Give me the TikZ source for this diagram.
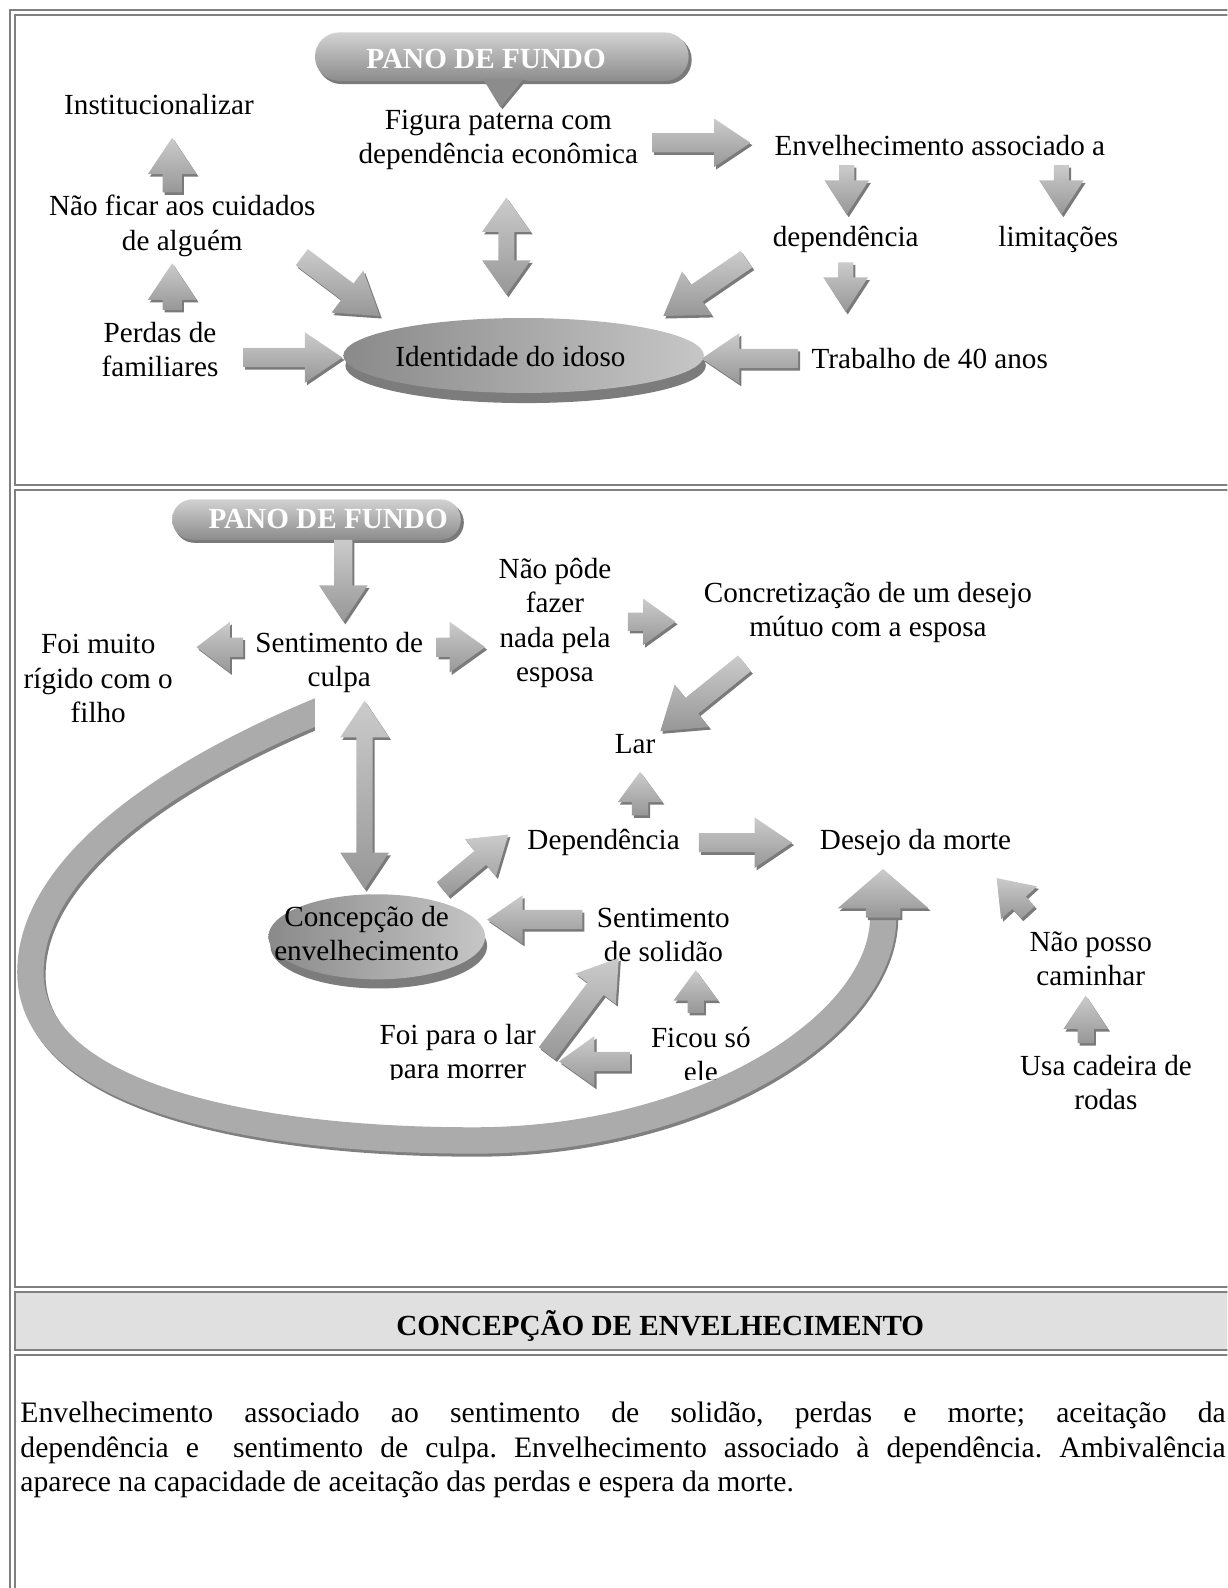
\documentclass[tikz,border=0pt]{standalone}
\usepackage{fontspec}
\setmainfont{Liberation Serif}
\usetikzlibrary{calc}
\frenchspacing

\definecolor{framegray}{HTML}{808080}
\definecolor{headerfill}{HTML}{E0E0E0}
\definecolor{arrowtop}{HTML}{CBCBCB}
\definecolor{arrowbot}{HTML}{979797}
\definecolor{arrowshadow}{HTML}{7A7A7A}
\definecolor{ellleft}{HTML}{8A8A8A}
\definecolor{ellright}{HTML}{C6C6C6}
\definecolor{ellrim}{HTML}{7C7C7C}
\definecolor{pilltop}{HTML}{D2D2D2}
\definecolor{pillbot}{HTML}{8C8C8C}
\definecolor{bandcol}{HTML}{ABABAB}
\definecolor{bandshadow}{HTML}{808080}

\tikzset{
  lbl/.style={font=\fontsize{28.8}{34}\selectfont, align=center, inner sep=0pt},
  pano/.style={font=\fontsize{28.8}{34}\selectfont\bfseries, text=white, inner sep=0pt},
  frame/.style={draw=framegray, line width=2pt},
  arrowbody/.style={top color=arrowtop, bottom color=arrowbot},
  arrowshade/.style={fill=arrowshadow},
  band/.style={line width=26pt},
}

% outline of a block arrow: tail, tip, head base, shaft half width, head half width
\newcommand\apoly[5]{($(#1)!#4pt!90:(#2)$) -- ($(#3)!#4pt!90:(#2)$) -- ($(#3)!#5pt!90:(#2)$) -- (#2) -- ($(#3)!#5pt!-90:(#2)$) -- ($(#3)!#4pt!-90:(#2)$) -- ($(#1)!#4pt!-90:(#2)$) -- cycle}

% block arrow with a soft shadow: tail, tip, shaft half, head half, head length
\newcommand\blockarrow[5]{%
  \coordinate (bt) at (#1); \coordinate (bp) at (#2);
  \coordinate (bh) at ($(bp)!#5pt!(bt)$);
  \coordinate (st) at ($(bt)+(2,2.5)$); \coordinate (sp) at ($(bp)+(2,2.5)$);
  \coordinate (sh) at ($(bh)+(2,2.5)$);
  \fill[arrowshade] \apoly{st}{sp}{sh}{#3}{#4};
  \shade[arrowbody] \apoly{bt}{bp}{bh}{#3}{#4};
}

% outline of a two-headed block arrow
\newcommand\dpoly[6]{(#1) -- ($(#3)!#6pt!90:(#2)$) -- ($(#3)!#5pt!90:(#2)$) -- ($(#4)!#5pt!-90:(#1)$) -- ($(#4)!#6pt!-90:(#1)$) -- (#2) -- ($(#4)!#6pt!90:(#1)$) -- ($(#4)!#5pt!90:(#1)$) -- ($(#3)!#5pt!-90:(#2)$) -- ($(#3)!#6pt!-90:(#2)$) -- cycle}

% two-headed block arrow: end a, end b, shaft half, head half, head length
\newcommand\dblarrow[5]{%
  \coordinate (da) at (#1); \coordinate (db) at (#2);
  \coordinate (dha) at ($(da)!#5pt!(db)$); \coordinate (dhb) at ($(db)!#5pt!(da)$);
  \coordinate (sa) at ($(da)+(2,2.5)$); \coordinate (sb) at ($(db)+(2,2.5)$);
  \coordinate (sha) at ($(dha)+(2,2.5)$); \coordinate (shb) at ($(dhb)+(2,2.5)$);
  \fill[arrowshade] \dpoly{sa}{sb}{sha}{shb}{#3}{#4};
  \shade[arrowbody] \dpoly{da}{db}{dha}{dhb}{#3}{#4};
}

\begin{document}
\begin{tikzpicture}[x=1pt,y=-1pt]
\path[use as bounding box] (0,0) rectangle (1212,1568);
\clip (0,0) rectangle (1212,1568);

% ---------- table frame ----------
\draw[frame] (10,1600) -- (10,10) -- (1240,10);
\draw[frame] (15,15) rectangle (1240,479);
\draw[frame] (15,484) rectangle (1240,1271);
\draw[frame, fill=headerfill] (15,1276) rectangle (1240,1333);
\draw[frame] (15,1338) rectangle (1240,1600);

% ================= upper panel =================
% callout "PANO DE FUNDO"
\fill[arrowshadow, rounded corners=24pt] (313,35) rectangle (683,83);
\shade[top color=pilltop, bottom color=pillbot, rounded corners=24pt] (311,32) rectangle (680,80);
\fill[arrowshadow] (480,79) -- (520,79) -- (496,108) -- cycle;
\fill[pillbot] (477,78) -- (517,78) -- (494,106) -- cycle;
\node[pano] (pano1) at (480,58) {PANO DE FUNDO};

% central ellipse
\fill[ellrim] (519,361) ellipse [x radius=178pt, y radius=37pt];
\shade[left color=ellleft, right color=ellright] (517,351) ellipse [x radius=178pt, y radius=37pt];
\node[lbl] (ident) at (504,352) {Identidade do idoso};

\node[lbl] (inst) at (157,103) {Institucionalizar};
\node[lbl] (naoficar) at (180,223) {Não ficar aos cuidados\\de alguém};
\node[lbl] (perdas) at (158,345) {Perdas de\\familiares};
\node[lbl] (figura) at (492,138) {Figura paterna com\\dependência econômica};
\node[lbl] (envelh) at (928,144) {Envelhecimento associado a};
\node[lbl] (dep) at (835,236) {dependência};
\node[lbl] (lim) at (1045,236) {limitações};
\node[lbl] (trab) at (918,354) {Trabalho de 40 anos};

\coordinate (a1t) at (170,190);  \coordinate (a1p) at (170,136);
\coordinate (a2t) at (170,306);  \coordinate (a2p) at (170,260);
\coordinate (a3t) at (240,353);  \coordinate (a3p) at (338,353);
\coordinate (a4t) at (298,254);  \coordinate (a4p) at (375,312);
\coordinate (a5a) at (500,195);  \coordinate (a5b) at (500,291);
\coordinate (a6t) at (644,141);  \coordinate (a6p) at (741,141);
\coordinate (a7t) at (836,163);  \coordinate (a7p) at (836,212);
\coordinate (a8t) at (1048,163); \coordinate (a8p) at (1048,212);
\coordinate (a9t) at (835,259);  \coordinate (a9p) at (835,308);
\coordinate (a10t) at (737,256); \coordinate (a10p) at (655,312);
\coordinate (a11t) at (788,354); \coordinate (a11p) at (693,354);

\blockarrow{a1t}{a1p}{9.5}{24}{36}
\blockarrow{a2t}{a2p}{9.5}{24}{36}
\blockarrow{a3t}{a3p}{9.5}{25}{37}
\blockarrow{a4t}{a4p}{10}{26}{40}
\dblarrow{a5a}{a5b}{8}{24}{34}
\blockarrow{a6t}{a6p}{9.5}{24}{36}
\blockarrow{a7t}{a7p}{7.5}{22}{34}
\blockarrow{a8t}{a8p}{7.5}{22}{34}
\blockarrow{a9t}{a9p}{7.5}{22}{34}
\blockarrow{a10t}{a10p}{10}{26}{40}
\blockarrow{a11t}{a11p}{9.5}{25}{37}

% ================= middle panel =================
% sweeping arrow from guilt to the wish for death (tail cut upright)
\coordinate (cstart) at (322,699);
\coordinate (ct) at (872,906); \coordinate (cp) at (872,858);
\begin{scope}
  \clip (0,0) -- (311,0) -- (311,760) -- (1212,760) -- (1212,1568) -- (0,1568) -- cycle;
  \draw[band, bandshadow, shift={(2,3)}] (322,699) .. controls (155,767) and (30,860) .. (30,960)
     .. controls (30,1085) and (260,1128) .. (480,1126) .. controls (700,1122) and (872,1010) .. (872,903);
  \draw[band, bandcol] (cstart) .. controls (155,767) and (30,860) .. (30,960)
     .. controls (30,1085) and (260,1128) .. (480,1126) .. controls (700,1122) and (872,1010) .. (ct);
\end{scope}
\blockarrow{ct}{cp}{17}{45}{39}

% callout "PANO DE FUNDO"
\fill[arrowshadow, rounded corners=20pt] (172,496) rectangle (458,536);
\shade[top color=pilltop, bottom color=pillbot, rounded corners=20pt] (170,493) rectangle (455,533);
\node[pano] (pano2) at (324,512) {PANO DE FUNDO};

% second ellipse
\fill[ellrim] (374,934) ellipse [x radius=107pt, y radius=42pt];
\shade[left color=ellleft, right color=ellright] (372,925) ellipse [x radius=107pt, y radius=42pt];
\node[lbl] (concep) at (362,922) {Concepção de\\envelhecimento};

\node[lbl] (culpa) at (335,654) {Sentimento de\\culpa};
\node[lbl] (rigido) at (97,670) {Foi muito\\rígido com o\\filho};
\node[lbl] (naopode) at (548,615) {Não pôde\\fazer\\nada pela\\esposa};
\node[lbl] (concret) at (857,605) {Concretização de um desejo\\mútuo com a esposa};
\node[lbl] (lar) at (627,735) {Lar};
\node[lbl] (depend) at (596,832) {Dependência};
\node[lbl] (desejo) at (904,832) {Desejo da morte};
\node[lbl] (solidao) at (655,923) {Sentimento\\de solidão};
\node[lbl] (naoposso) at (1077,947) {Não posso\\caminhar};
\node[lbl] (usa) at (1092,1069) {Usa cadeira de\\rodas};
\begin{scope}
  \clip (340,990) rectangle (780,1066);
  \node[lbl] (foipara) at (452,1041) {Foi para o lar\\para morrer};
  \node[lbl] (ficou) at (692,1041) {Ficou só\\ele};
\end{scope}

\coordinate (a12t) at (339,533);  \coordinate (a12p) at (339,614);
\coordinate (a13t) at (240,639);  \coordinate (a13p) at (194,639);
\coordinate (a14t) at (431,639);  \coordinate (a14p) at (479,639);
\coordinate (a15t) at (620,614);  \coordinate (a15p) at (667,614);
\coordinate (a16t) at (735,655);  \coordinate (a16p) at (652,722);
\coordinate (a17t) at (632,805);  \coordinate (a17p) at (632,762);
\coordinate (a18t) at (690,832);  \coordinate (a18p) at (782,832);
\coordinate (a19a) at (360,692);  \coordinate (a19b) at (360,878);
\coordinate (a20t) at (437,878);  \coordinate (a20p) at (502,824);
\coordinate (a21t) at (575,908);  \coordinate (a21p) at (481,908);
\coordinate (a22t) at (540,1040); \coordinate (a22p) at (611,946);
\coordinate (a23t) at (687,1000); \coordinate (a23p) at (687,958);
\coordinate (a24t) at (622,1048); \coordinate (a24p) at (552,1048);
\coordinate (a25t) at (1015,901); \coordinate (a25p) at (984,867);
\coordinate (a26t) at (1072,1030);\coordinate (a26p) at (1072,983);

\blockarrow{a12t}{a12p}{9}{24}{36}
\blockarrow{a13t}{a13p}{9.5}{25}{33}
\blockarrow{a14t}{a14p}{9.5}{25}{35}
\blockarrow{a15t}{a15p}{9}{23}{32}
\blockarrow{a16t}{a16p}{10}{27}{40}
\blockarrow{a17t}{a17p}{8}{22}{30}
\blockarrow{a18t}{a18p}{9.5}{25}{37}
\dblarrow{a19a}{a19b}{8}{24}{36}
\blockarrow{a20t}{a20p}{9}{24}{36}
\blockarrow{a21t}{a21p}{9.5}{24}{35}
\blockarrow{a22t}{a22p}{10}{25}{38}
\blockarrow{a23t}{a23p}{8}{22}{30}
\blockarrow{a24t}{a24p}{9.5}{25}{35}
\blockarrow{a25t}{a25p}{9}{24}{33}
\blockarrow{a26t}{a26p}{8}{22}{33}

% ================= summary =================
\node[font=\fontsize{28.8}{34}\selectfont\bfseries, inner sep=0pt] (head) at (652,1309) {CONCEPÇÃO DE ENVELHECIMENTO};
\begin{scope}[every node/.style={anchor=base west, inner sep=0pt, font=\fontsize{29.3}{34}\selectfont}]
  \node (l1) at (20,1405) {\makebox[1190pt][s]{Envelhecimento associado ao sentimento de solidão, perdas e morte; aceitação da}};
  \node (l2) at (20,1439) {\makebox[1190pt][s]{dependência e\ \ sentimento de culpa. Envelhecimento associado à dependência. Ambivalência}};
  \node (l3) at (20,1473) {aparece na capacidade de aceitação das perdas e espera da morte.};
\end{scope}
\end{tikzpicture}
\end{document}
